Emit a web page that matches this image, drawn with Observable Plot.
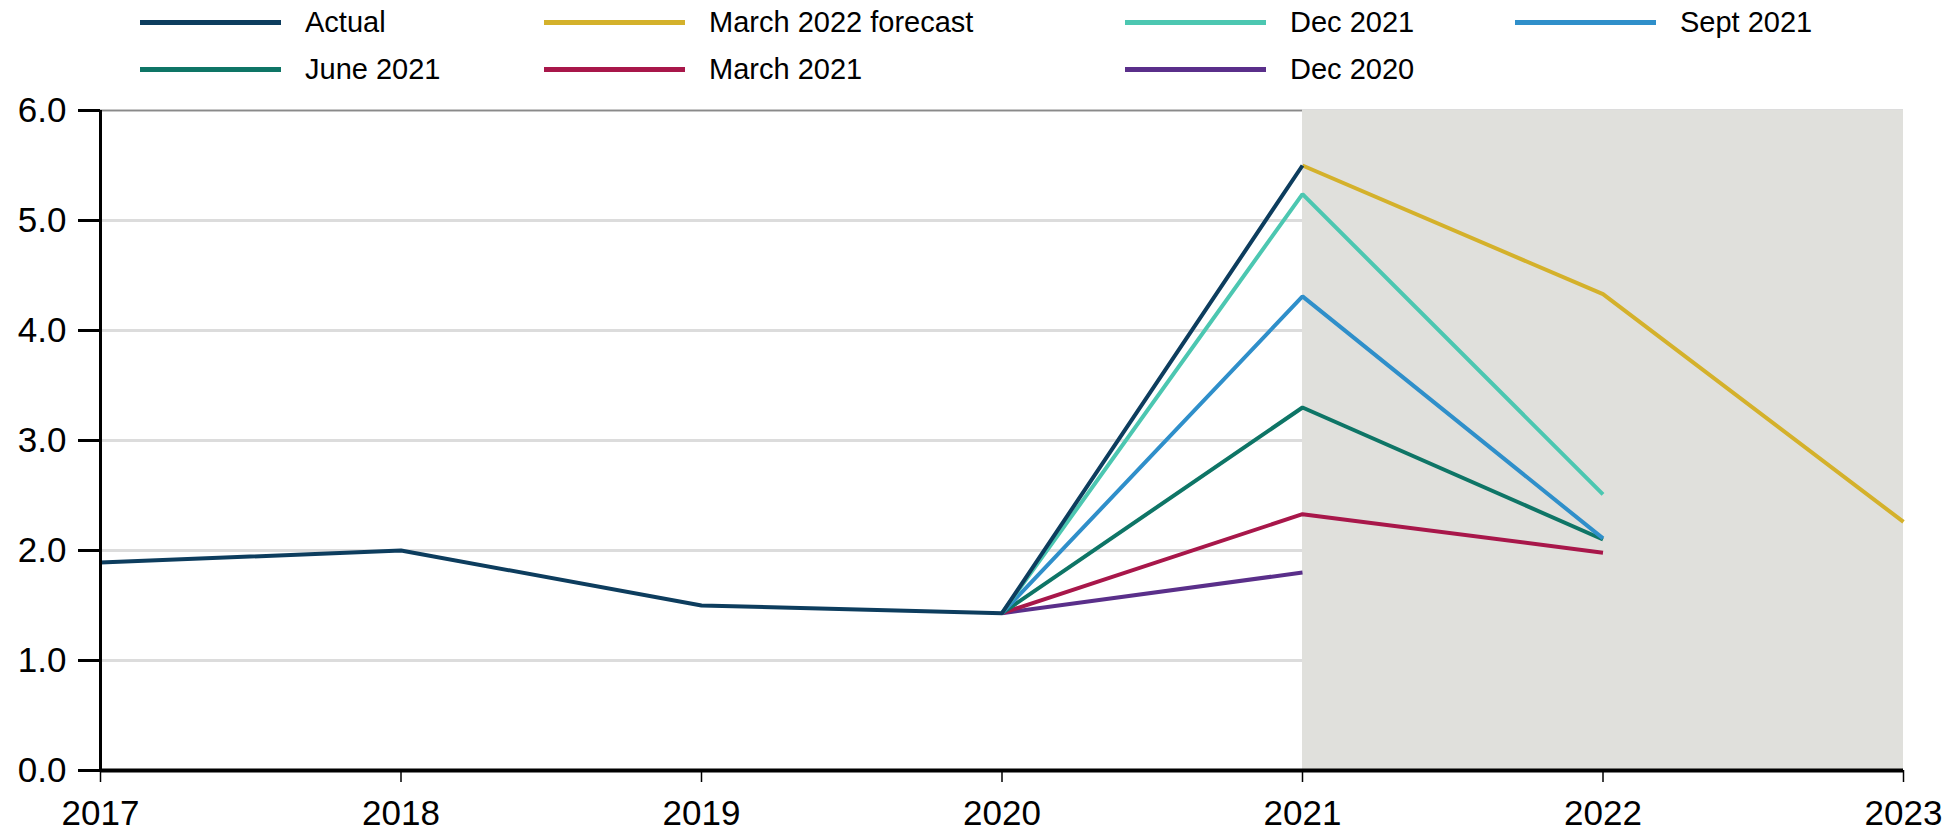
<!DOCTYPE html>
<html>
<head>
<meta charset="utf-8">
<script src="https://cdn.jsdelivr.net/npm/d3@7"></script>
<script src="https://cdn.jsdelivr.net/npm/@observablehq/plot@0.6"></script>
<style>
  html, body { margin: 0; padding: 0; background: #fff; }
  body { width: 1960px; height: 833px; overflow: hidden; font-family: "Liberation Sans", Arial, sans-serif; }
  #legend { position: relative; width: 1960px; height: 75px; }
  .item { position: absolute; display: flex; align-items: center; font-size: 29px; color: #000; white-space: nowrap; }
  .sw { width: 141px; height: 5px; margin-right: 24px; }
</style>
</head>
<body>
<div id="legend"></div>
<div id="chart"></div>
<script>
const years = [2017, 2018, 2019, 2020, 2021, 2022, 2023];
const seriesNames = ["Actual", "March 2022 forecast", "Dec 2021", "Sept 2021", "June 2021", "March 2021", "Dec 2020"];
const seriesColors = ["#0d3d5e", "#d4b12b", "#4cc7b1", "#2f8fca", "#0e7566", "#a8174a", "#5a2f8a"];
const actual     = [1.89, 2.0, 1.5, 1.43, 5.5, null, null];
const march2022  = [null, null, null, null, 5.5, 4.33, 2.26];
const dec2021    = [null, null, null, 1.43, 5.24, 2.51, null];
const sept2021   = [null, null, null, 1.43, 4.31, 2.11, null];
const june2021   = [null, null, null, 1.43, 3.3, 2.1, null];
const march2021  = [null, null, null, 1.43, 2.33, 1.98, null];
const dec2020    = [null, null, null, 1.43, 1.8, null, null];
const yTicks = [0, 1, 2, 3, 4, 5, 6];
const forecastStart = 2021;
const forecastEnd = 2023;

const seriesValues = [actual, march2022, dec2021, sept2021, june2021, march2021, dec2020];
const rows = [];
seriesNames.forEach((name, i) => {
  years.forEach((yr, j) => {
    const v = seriesValues[i][j];
    if (v != null) rows.push({series: name, year: yr, value: v});
  });
});

// legend
const legendPos = [
  [140, 22], [544, 22], [1125, 22], [1515, 22],
  [140, 69], [544, 69], [1125, 69]
];
const legend = document.getElementById("legend");
seriesNames.forEach((name, i) => {
  const d = document.createElement("div");
  d.className = "item";
  d.style.left = legendPos[i][0] + "px";
  d.style.top = (legendPos[i][1] - 18) + "px";
  d.style.height = "36px";
  const sw = document.createElement("span");
  sw.className = "sw";
  sw.style.background = seriesColors[i];
  const t = document.createElement("span");
  t.textContent = name;
  d.appendChild(sw); d.appendChild(t);
  legend.appendChild(d);
});

const drawOrder = ["Dec 2020", "March 2021", "June 2021", "Sept 2021", "Dec 2021", "March 2022 forecast", "Actual"];

const chart = Plot.plot({
  width: 1960,
  height: 758,
  marginTop: 35,
  marginBottom: 63,
  marginLeft: 100,
  marginRight: 57,
  style: { fontFamily: "Liberation Sans, Arial, sans-serif", fontSize: "35px", color: "#000", background: "#fff", overflow: "visible" },
  x: { type: "linear", domain: [2017, 2023], label: null },
  y: { domain: [0, 6], label: null },
  color: { domain: seriesNames, range: seriesColors },
  marks: [
    Plot.ruleY(yTicks.filter(d => d > 0), { stroke: "#dcdcdc", strokeWidth: 3 }),
    Plot.ruleY([6], { x1: 2017, x2: forecastStart, stroke: "#8a8a8a", strokeWidth: 1.5 }),
    Plot.rect([{x1: forecastStart, x2: forecastEnd}], { x1: "x1", x2: "x2", y1: 0, y2: 6, fill: "#e0e0dc" }),
    Plot.line(rows, {
      x: "year", y: "value", z: "series", stroke: "series",
      strokeWidth: 4, strokeLinejoin: "miter", strokeLinecap: "butt",
      sort: (a, b) => drawOrder.indexOf(a.series) - drawOrder.indexOf(b.series) || a.year - b.year
    }),
    Plot.axisY({ ticks: yTicks, tickFormat: d => d.toFixed(1), tickSize: 22, tickPadding: 12, strokeWidth: 3, fontSize: 35 }),
    Plot.axisX({ ticks: years, tickFormat: d => String(d), tickSize: 12, tickPadding: 18, strokeWidth: 1.5, fontSize: 35 }),
    Plot.ruleX([2017], { stroke: "#000", strokeWidth: 3 }),
    Plot.ruleY([0], { stroke: "#000", strokeWidth: 4 })
  ]
});
document.getElementById("chart").appendChild(chart);
</script>
</body>
</html>
